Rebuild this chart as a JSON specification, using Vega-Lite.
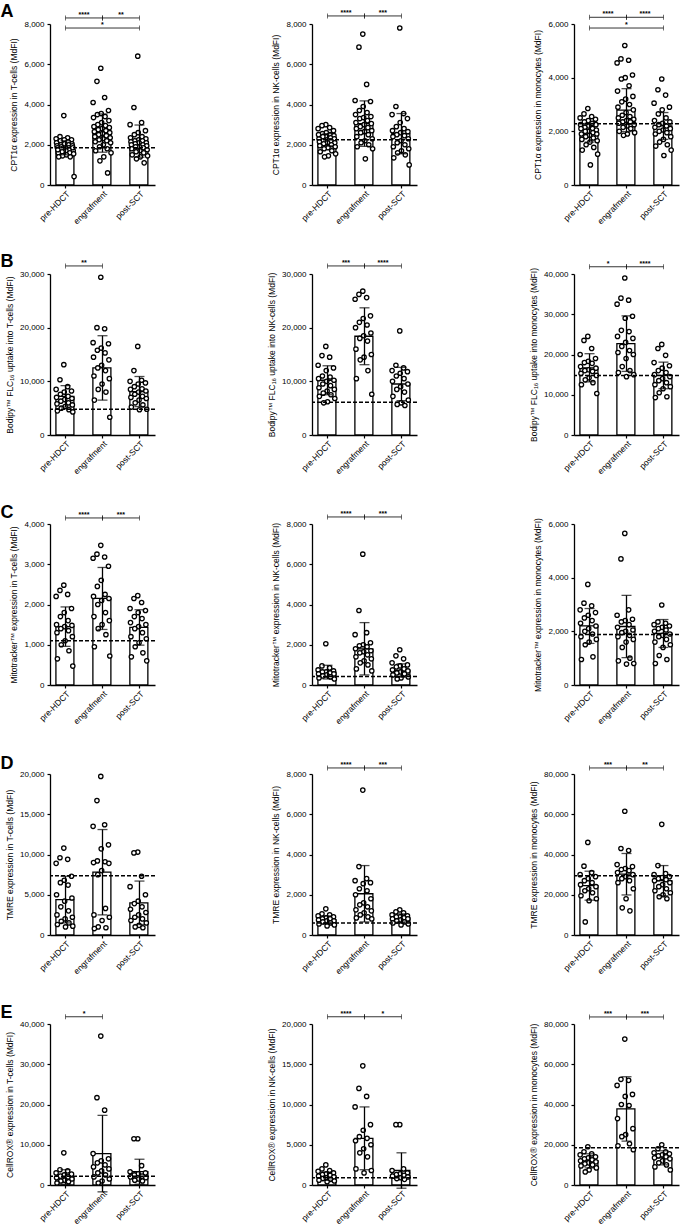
{
"$schema":"https://vega.github.io/schema/vega-lite/v6.json",
"padding":{"left":0,"top":2,"right":2,"bottom":0},
"background":"white",
"config":{"view":{"stroke":null},"font":"Liberation Sans",
"axis":{"domainColor":"black","tickColor":"black","labelColor":"black","titleColor":"black","labelFontSize":8,"titleFontSize":8.5,"titleFontWeight":"normal","domainWidth":1.3,"tickWidth":1.2,"tickSize":3,"grid":false,"labelFont":"Liberation Sans","titleFont":"Liberation Sans","labelPadding":3},
"axisY":{"titlePadding":5},
"axisX":{"labelAngle":-45,"labelFontSize":8.5,"labelPadding":1},
"title":{"anchor":"start","fontSize":18,"fontWeight":"bold","font":"Liberation Sans","color":"black","offset":-12}},
"datasets":{
"A1":[{"g":"pre","v":3450},{"g":"pre","v":2400},{"g":"pre","v":2350},{"g":"pre","v":2300},{"g":"pre","v":2250},{"g":"pre","v":2200},{"g":"pre","v":2150},{"g":"pre","v":2100},{"g":"pre","v":2050},{"g":"pre","v":2000},{"g":"pre","v":2000},{"g":"pre","v":1950},{"g":"pre","v":1900},{"g":"pre","v":1900},{"g":"pre","v":1850},{"g":"pre","v":1850},{"g":"pre","v":1800},{"g":"pre","v":1800},{"g":"pre","v":1750},{"g":"pre","v":1700},{"g":"pre","v":1700},{"g":"pre","v":1650},{"g":"pre","v":1600},{"g":"pre","v":1600},{"g":"pre","v":1550},{"g":"pre","v":1500},{"g":"pre","v":1450},{"g":"pre","v":1400},{"g":"pre","v":1400},{"g":"pre","v":420},{"g":"pre","v":2250},{"g":"pre","v":1950},{"g":"pre","v":2050},{"g":"pre","v":1750},{"g":"pre","v":1850},
{"g":"eng","v":5800},{"g":"eng","v":5150},{"g":"eng","v":4350},{"g":"eng","v":4100},{"g":"eng","v":3700},{"g":"eng","v":3550},{"g":"eng","v":3500},{"g":"eng","v":3400},{"g":"eng","v":3350},{"g":"eng","v":3200},{"g":"eng","v":3100},{"g":"eng","v":3000},{"g":"eng","v":2950},{"g":"eng","v":2900},{"g":"eng","v":2850},{"g":"eng","v":2800},{"g":"eng","v":2750},{"g":"eng","v":2700},{"g":"eng","v":2650},{"g":"eng","v":2600},{"g":"eng","v":2550},{"g":"eng","v":2500},{"g":"eng","v":2450},{"g":"eng","v":2400},{"g":"eng","v":2350},{"g":"eng","v":2300},{"g":"eng","v":2250},{"g":"eng","v":2200},{"g":"eng","v":2150},{"g":"eng","v":2100},{"g":"eng","v":2000},{"g":"eng","v":1900},{"g":"eng","v":1800},{"g":"eng","v":1700},{"g":"eng","v":1600},{"g":"eng","v":1400},{"g":"eng","v":1200},{"g":"eng","v":600},
{"g":"post","v":6400},{"g":"post","v":3850},{"g":"post","v":3100},{"g":"post","v":3000},{"g":"post","v":2700},{"g":"post","v":2600},{"g":"post","v":2500},{"g":"post","v":2400},{"g":"post","v":2350},{"g":"post","v":2300},{"g":"post","v":2250},{"g":"post","v":2200},{"g":"post","v":2200},{"g":"post","v":2150},{"g":"post","v":2100},{"g":"post","v":2100},{"g":"post","v":2050},{"g":"post","v":2000},{"g":"post","v":2000},{"g":"post","v":1950},{"g":"post","v":1900},{"g":"post","v":1900},{"g":"post","v":1850},{"g":"post","v":1800},{"g":"post","v":1750},{"g":"post","v":1700},{"g":"post","v":1650},{"g":"post","v":1600},{"g":"post","v":1500},{"g":"post","v":1450},{"g":"post","v":1400},{"g":"post","v":1300},{"g":"post","v":1100},
{"g":"pre","m":1850,"sd":350},{"g":"eng","m":2580,"sd":950},{"g":"post","m":2180,"sd":800},{"r":1850},
{"x1":"pre","x2":"eng","y":8300,"s":"****","t":1},{"x1":"eng","x2":"post","y":8300,"s":"**","t":1},{"x1":"pre","x2":"post","y":7800,"s":"*","t":2}],
"A2":[{"g":"pre","v":3000},{"g":"pre","v":2950},{"g":"pre","v":2850},{"g":"pre","v":2800},{"g":"pre","v":2700},{"g":"pre","v":2600},{"g":"pre","v":2550},{"g":"pre","v":2500},{"g":"pre","v":2450},{"g":"pre","v":2400},{"g":"pre","v":2400},{"g":"pre","v":2350},{"g":"pre","v":2300},{"g":"pre","v":2300},{"g":"pre","v":2250},{"g":"pre","v":2200},{"g":"pre","v":2200},{"g":"pre","v":2150},{"g":"pre","v":2100},{"g":"pre","v":2100},{"g":"pre","v":2050},{"g":"pre","v":2000},{"g":"pre","v":1950},{"g":"pre","v":1900},{"g":"pre","v":1850},{"g":"pre","v":1800},{"g":"pre","v":1700},{"g":"pre","v":1650},{"g":"pre","v":1550},{"g":"pre","v":1450},{"g":"pre","v":1400},{"g":"pre","v":2500},
{"g":"eng","v":7500},{"g":"eng","v":6850},{"g":"eng","v":5000},{"g":"eng","v":4200},{"g":"eng","v":4150},{"g":"eng","v":3900},{"g":"eng","v":3700},{"g":"eng","v":3600},{"g":"eng","v":3500},{"g":"eng","v":3400},{"g":"eng","v":3300},{"g":"eng","v":3200},{"g":"eng","v":3100},{"g":"eng","v":3050},{"g":"eng","v":3000},{"g":"eng","v":2900},{"g":"eng","v":2850},{"g":"eng","v":2800},{"g":"eng","v":2700},{"g":"eng","v":2650},{"g":"eng","v":2600},{"g":"eng","v":2500},{"g":"eng","v":2400},{"g":"eng","v":2300},{"g":"eng","v":2200},{"g":"eng","v":2100},{"g":"eng","v":2000},{"g":"eng","v":1900},{"g":"eng","v":1800},{"g":"eng","v":1300},{"g":"eng","v":3350},
{"g":"post","v":7800},{"g":"post","v":3900},{"g":"post","v":3550},{"g":"post","v":3500},{"g":"post","v":3300},{"g":"post","v":3100},{"g":"post","v":2900},{"g":"post","v":2800},{"g":"post","v":2700},{"g":"post","v":2650},{"g":"post","v":2600},{"g":"post","v":2500},{"g":"post","v":2450},{"g":"post","v":2400},{"g":"post","v":2300},{"g":"post","v":2200},{"g":"post","v":2100},{"g":"post","v":2000},{"g":"post","v":1900},{"g":"post","v":1800},{"g":"post","v":1700},{"g":"post","v":1600},{"g":"post","v":1500},{"g":"post","v":1350},{"g":"post","v":1000},
{"g":"pre","m":2250,"sd":300},{"g":"eng","m":3050,"sd":1130},{"g":"post","m":2550,"sd":1000},{"r":2250},
{"x1":"pre","x2":"eng","y":8400,"s":"****","t":1},{"x1":"eng","x2":"post","y":8400,"s":"***","t":1}],
"A3":[{"g":"pre","v":2850},{"g":"pre","v":2650},{"g":"pre","v":2550},{"g":"pre","v":2500},{"g":"pre","v":2450},{"g":"pre","v":2400},{"g":"pre","v":2350},{"g":"pre","v":2300},{"g":"pre","v":2250},{"g":"pre","v":2250},{"g":"pre","v":2200},{"g":"pre","v":2150},{"g":"pre","v":2100},{"g":"pre","v":2100},{"g":"pre","v":2050},{"g":"pre","v":2000},{"g":"pre","v":2000},{"g":"pre","v":1950},{"g":"pre","v":1900},{"g":"pre","v":1900},{"g":"pre","v":1850},{"g":"pre","v":1800},{"g":"pre","v":1750},{"g":"pre","v":1700},{"g":"pre","v":1650},{"g":"pre","v":1600},{"g":"pre","v":1500},{"g":"pre","v":1400},{"g":"pre","v":1300},{"g":"pre","v":1150},{"g":"pre","v":750},
{"g":"eng","v":5200},{"g":"eng","v":4700},{"g":"eng","v":4650},{"g":"eng","v":4550},{"g":"eng","v":4100},{"g":"eng","v":4000},{"g":"eng","v":3950},{"g":"eng","v":3700},{"g":"eng","v":3500},{"g":"eng","v":3300},{"g":"eng","v":3200},{"g":"eng","v":3100},{"g":"eng","v":3000},{"g":"eng","v":2900},{"g":"eng","v":2800},{"g":"eng","v":2700},{"g":"eng","v":2600},{"g":"eng","v":2550},{"g":"eng","v":2500},{"g":"eng","v":2450},{"g":"eng","v":2400},{"g":"eng","v":2350},{"g":"eng","v":2350},{"g":"eng","v":2300},{"g":"eng","v":2250},{"g":"eng","v":2200},{"g":"eng","v":2150},{"g":"eng","v":2100},{"g":"eng","v":2000},{"g":"eng","v":1950},{"g":"eng","v":1900},{"g":"eng","v":1850},
{"g":"post","v":3950},{"g":"post","v":3550},{"g":"post","v":3350},{"g":"post","v":3050},{"g":"post","v":2900},{"g":"post","v":2800},{"g":"post","v":2650},{"g":"post","v":2500},{"g":"post","v":2400},{"g":"post","v":2350},{"g":"post","v":2300},{"g":"post","v":2250},{"g":"post","v":2200},{"g":"post","v":2150},{"g":"post","v":2100},{"g":"post","v":2050},{"g":"post","v":2000},{"g":"post","v":1950},{"g":"post","v":1900},{"g":"post","v":1800},{"g":"post","v":1700},{"g":"post","v":1600},{"g":"post","v":1500},{"g":"post","v":1450},{"g":"post","v":1300},{"g":"post","v":1100},
{"g":"pre","m":1950,"sd":350},{"g":"eng","m":2790,"sd":800},{"g":"post","m":2200,"sd":500},{"r":2280},
{"x1":"pre","x2":"eng","y":6250,"s":"****","t":1},{"x1":"eng","x2":"post","y":6250,"s":"****","t":1},{"x1":"pre","x2":"post","y":5850,"s":"*","t":2}],
"B1":[{"g":"pre","v":13100},{"g":"pre","v":10300},{"g":"pre","v":9000},{"g":"pre","v":8500},{"g":"pre","v":8200},{"g":"pre","v":8000},{"g":"pre","v":7600},{"g":"pre","v":7200},{"g":"pre","v":7000},{"g":"pre","v":6800},{"g":"pre","v":6600},{"g":"pre","v":6300},{"g":"pre","v":6000},{"g":"pre","v":5800},{"g":"pre","v":5600},{"g":"pre","v":5300},{"g":"pre","v":5000},{"g":"pre","v":4700},{"g":"pre","v":4500},{"g":"pre","v":4300},
{"g":"eng","v":29400},{"g":"eng","v":20000},{"g":"eng","v":19800},{"g":"eng","v":17200},{"g":"eng","v":17000},{"g":"eng","v":16200},{"g":"eng","v":15800},{"g":"eng","v":15300},{"g":"eng","v":14500},{"g":"eng","v":14000},{"g":"eng","v":13000},{"g":"eng","v":12500},{"g":"eng","v":12000},{"g":"eng","v":11000},{"g":"eng","v":10500},{"g":"eng","v":9500},{"g":"eng","v":8500},{"g":"eng","v":8000},{"g":"eng","v":6500},{"g":"eng","v":3300},
{"g":"post","v":16500},{"g":"post","v":12000},{"g":"post","v":10200},{"g":"post","v":10000},{"g":"post","v":9700},{"g":"post","v":9500},{"g":"post","v":9000},{"g":"post","v":8600},{"g":"post","v":8500},{"g":"post","v":8200},{"g":"post","v":8000},{"g":"post","v":7600},{"g":"post","v":7200},{"g":"post","v":7000},{"g":"post","v":6800},{"g":"post","v":6500},{"g":"post","v":6000},{"g":"post","v":5600},{"g":"post","v":5200},{"g":"post","v":4800},{"g":"post","v":4700},
{"g":"pre","m":7200,"sd":2000},{"g":"eng","m":12500,"sd":6000},{"g":"post","m":8100,"sd":2800},{"r":4800},
{"x1":"pre","x2":"eng","y":31500,"s":"**","t":1}],
"B2":[{"g":"pre","v":16500},{"g":"pre","v":14800},{"g":"pre","v":14500},{"g":"pre","v":13000},{"g":"pre","v":12500},{"g":"pre","v":12000},{"g":"pre","v":11000},{"g":"pre","v":10800},{"g":"pre","v":10500},{"g":"pre","v":10200},{"g":"pre","v":10000},{"g":"pre","v":9500},{"g":"pre","v":9200},{"g":"pre","v":8800},{"g":"pre","v":8500},{"g":"pre","v":8200},{"g":"pre","v":7800},{"g":"pre","v":7500},{"g":"pre","v":7200},{"g":"pre","v":6800},{"g":"pre","v":6200},{"g":"pre","v":6000},
{"g":"eng","v":26800},{"g":"eng","v":26200},{"g":"eng","v":25600},{"g":"eng","v":25300},{"g":"eng","v":22200},{"g":"eng","v":21700},{"g":"eng","v":21000},{"g":"eng","v":20500},{"g":"eng","v":20000},{"g":"eng","v":19000},{"g":"eng","v":18500},{"g":"eng","v":18000},{"g":"eng","v":17500},{"g":"eng","v":16000},{"g":"eng","v":15000},{"g":"eng","v":14500},{"g":"eng","v":14000},{"g":"eng","v":12000},{"g":"eng","v":10500},{"g":"eng","v":7600},
{"g":"post","v":19400},{"g":"post","v":13000},{"g":"post","v":12500},{"g":"post","v":12000},{"g":"post","v":11800},{"g":"post","v":11500},{"g":"post","v":11000},{"g":"post","v":10500},{"g":"post","v":10000},{"g":"post","v":9500},{"g":"post","v":9000},{"g":"post","v":8500},{"g":"post","v":8000},{"g":"post","v":7200},{"g":"post","v":6500},{"g":"post","v":6000},{"g":"post","v":5700},{"g":"post","v":5500},
{"g":"pre","m":10200,"sd":2700},{"g":"eng","m":18400,"sd":5300},{"g":"post","m":9500,"sd":3100},{"r":6100},
{"x1":"pre","x2":"eng","y":31500,"s":"***","t":1},{"x1":"eng","x2":"post","y":31500,"s":"****","t":1}],
"B3":[{"g":"pre","v":24500},{"g":"pre","v":23500},{"g":"pre","v":21500},{"g":"pre","v":20000},{"g":"pre","v":19000},{"g":"pre","v":18300},{"g":"pre","v":18000},{"g":"pre","v":17800},{"g":"pre","v":17000},{"g":"pre","v":16600},{"g":"pre","v":16200},{"g":"pre","v":16000},{"g":"pre","v":15800},{"g":"pre","v":15300},{"g":"pre","v":14800},{"g":"pre","v":14200},{"g":"pre","v":13700},{"g":"pre","v":13000},{"g":"pre","v":12500},{"g":"pre","v":10300},
{"g":"eng","v":39000},{"g":"eng","v":34000},{"g":"eng","v":33500},{"g":"eng","v":32500},{"g":"eng","v":29500},{"g":"eng","v":29000},{"g":"eng","v":26000},{"g":"eng","v":25700},{"g":"eng","v":24500},{"g":"eng","v":24000},{"g":"eng","v":23000},{"g":"eng","v":22000},{"g":"eng","v":21000},{"g":"eng","v":20500},{"g":"eng","v":20000},{"g":"eng","v":19000},{"g":"eng","v":17000},{"g":"eng","v":16000},{"g":"eng","v":15500},{"g":"eng","v":15000},{"g":"eng","v":14500},
{"g":"post","v":22500},{"g":"post","v":21500},{"g":"post","v":19800},{"g":"post","v":18000},{"g":"post","v":17200},{"g":"post","v":16600},{"g":"post","v":16000},{"g":"post","v":15500},{"g":"post","v":15000},{"g":"post","v":14500},{"g":"post","v":14000},{"g":"post","v":13500},{"g":"post","v":13000},{"g":"post","v":12500},{"g":"post","v":12000},{"g":"post","v":11500},{"g":"post","v":10500},{"g":"post","v":9500},{"g":"post","v":9300},
{"g":"pre","m":16700,"sd":3500},{"g":"eng","m":22700,"sd":6900},{"g":"post","m":14800,"sd":3300},{"r":14800},
{"x1":"pre","x2":"eng","y":41800,"s":"*","t":1},{"x1":"eng","x2":"post","y":41800,"s":"****","t":1}],
"C1":[{"g":"pre","v":2480},{"g":"pre","v":2350},{"g":"pre","v":2250},{"g":"pre","v":2200},{"g":"pre","v":1900},{"g":"pre","v":1800},{"g":"pre","v":1700},{"g":"pre","v":1600},{"g":"pre","v":1500},{"g":"pre","v":1480},{"g":"pre","v":1450},{"g":"pre","v":1400},{"g":"pre","v":1350},{"g":"pre","v":1300},{"g":"pre","v":1200},{"g":"pre","v":1100},{"g":"pre","v":1000},{"g":"pre","v":850},{"g":"pre","v":650},{"g":"pre","v":470},
{"g":"eng","v":3470},{"g":"eng","v":3250},{"g":"eng","v":3180},{"g":"eng","v":3150},{"g":"eng","v":2950},{"g":"eng","v":2600},{"g":"eng","v":2450},{"g":"eng","v":2250},{"g":"eng","v":2200},{"g":"eng","v":2150},{"g":"eng","v":2100},{"g":"eng","v":2000},{"g":"eng","v":1800},{"g":"eng","v":1700},{"g":"eng","v":1600},{"g":"eng","v":1500},{"g":"eng","v":1400},{"g":"eng","v":1250},{"g":"eng","v":950},{"g":"eng","v":720},
{"g":"post","v":2220},{"g":"post","v":2150},{"g":"post","v":2050},{"g":"post","v":1900},{"g":"post","v":1850},{"g":"post","v":1800},{"g":"post","v":1700},{"g":"post","v":1650},{"g":"post","v":1550},{"g":"post","v":1500},{"g":"post","v":1450},{"g":"post","v":1400},{"g":"post","v":1300},{"g":"post","v":1200},{"g":"post","v":1150},{"g":"post","v":1050},{"g":"post","v":950},{"g":"post","v":800},{"g":"post","v":700},{"g":"post","v":600},
{"g":"pre","m":1450,"sd":490},{"g":"eng","m":2150,"sd":770},{"g":"post","m":1430,"sd":440},{"r":1100},
{"x1":"pre","x2":"eng","y":4150,"s":"****","t":1},{"x1":"eng","x2":"post","y":4150,"s":"***","t":1}],
"C2":[{"g":"pre","v":2050},{"g":"pre","v":950},{"g":"pre","v":850},{"g":"pre","v":750},{"g":"pre","v":700},{"g":"pre","v":650},{"g":"pre","v":650},{"g":"pre","v":600},{"g":"pre","v":550},{"g":"pre","v":550},{"g":"pre","v":500},{"g":"pre","v":450},{"g":"pre","v":400},{"g":"pre","v":350},{"g":"pre","v":300},
{"g":"eng","v":6500},{"g":"eng","v":3700},{"g":"eng","v":2600},{"g":"eng","v":2500},{"g":"eng","v":2100},{"g":"eng","v":2000},{"g":"eng","v":1950},{"g":"eng","v":1900},{"g":"eng","v":1800},{"g":"eng","v":1700},{"g":"eng","v":1650},{"g":"eng","v":1600},{"g":"eng","v":1500},{"g":"eng","v":1400},{"g":"eng","v":1300},{"g":"eng","v":1200},{"g":"eng","v":1100},{"g":"eng","v":1000},{"g":"eng","v":800},{"g":"eng","v":700},
{"g":"post","v":1750},{"g":"post","v":1450},{"g":"post","v":1300},{"g":"post","v":1100},{"g":"post","v":1000},{"g":"post","v":950},{"g":"post","v":900},{"g":"post","v":800},{"g":"post","v":750},{"g":"post","v":700},{"g":"post","v":650},{"g":"post","v":600},{"g":"post","v":550},{"g":"post","v":500},{"g":"post","v":400},{"g":"post","v":350},{"g":"post","v":300},
{"g":"pre","m":640,"sd":340},{"g":"eng","m":1800,"sd":1300},{"g":"post","m":720,"sd":330},{"r":420},
{"x1":"pre","x2":"eng","y":8350,"s":"****","t":1},{"x1":"eng","x2":"post","y":8350,"s":"***","t":1}],
"C3":[{"g":"pre","v":3750},{"g":"pre","v":3050},{"g":"pre","v":2950},{"g":"pre","v":2800},{"g":"pre","v":2700},{"g":"pre","v":2600},{"g":"pre","v":2500},{"g":"pre","v":2400},{"g":"pre","v":2300},{"g":"pre","v":2200},{"g":"pre","v":2100},{"g":"pre","v":2000},{"g":"pre","v":1900},{"g":"pre","v":1800},{"g":"pre","v":1700},{"g":"pre","v":1600},{"g":"pre","v":1500},{"g":"pre","v":1050},{"g":"pre","v":950},
{"g":"eng","v":5650},{"g":"eng","v":4700},{"g":"eng","v":2800},{"g":"eng","v":2600},{"g":"eng","v":2450},{"g":"eng","v":2400},{"g":"eng","v":2350},{"g":"eng","v":2250},{"g":"eng","v":2150},{"g":"eng","v":2050},{"g":"eng","v":2000},{"g":"eng","v":1950},{"g":"eng","v":1850},{"g":"eng","v":1800},{"g":"eng","v":1700},{"g":"eng","v":1600},{"g":"eng","v":1400},{"g":"eng","v":1000},{"g":"eng","v":900},{"g":"eng","v":800},{"g":"eng","v":780},
{"g":"post","v":2980},{"g":"post","v":2350},{"g":"post","v":2300},{"g":"post","v":2250},{"g":"post","v":2200},{"g":"post","v":2150},{"g":"post","v":2100},{"g":"post","v":2050},{"g":"post","v":2000},{"g":"post","v":1900},{"g":"post","v":1850},{"g":"post","v":1800},{"g":"post","v":1700},{"g":"post","v":1600},{"g":"post","v":1500},{"g":"post","v":1400},{"g":"post","v":1100},{"g":"post","v":950},{"g":"post","v":800},
{"g":"pre","m":2200,"sd":650},{"g":"eng","m":2180,"sd":1160},{"g":"post","m":1920,"sd":520},{"r":1880}],
"D1":[{"g":"pre","v":10800},{"g":"pre","v":9600},{"g":"pre","v":9400},{"g":"pre","v":8900},{"g":"pre","v":7300},{"g":"pre","v":6800},{"g":"pre","v":6500},{"g":"pre","v":6200},{"g":"pre","v":5000},{"g":"pre","v":4600},{"g":"pre","v":4200},{"g":"pre","v":3500},{"g":"pre","v":3000},{"g":"pre","v":2500},{"g":"pre","v":2200},{"g":"pre","v":2000},{"g":"pre","v":1700},{"g":"pre","v":1500},{"g":"pre","v":1300},{"g":"pre","v":1100},{"g":"pre","v":1000},
{"g":"eng","v":19700},{"g":"eng","v":16700},{"g":"eng","v":13700},{"g":"eng","v":13500},{"g":"eng","v":11200},{"g":"eng","v":10700},{"g":"eng","v":9200},{"g":"eng","v":9100},{"g":"eng","v":9000},{"g":"eng","v":8900},{"g":"eng","v":8000},{"g":"eng","v":7500},{"g":"eng","v":3300},{"g":"eng","v":2500},{"g":"eng","v":2200},{"g":"eng","v":1800},{"g":"eng","v":1000},{"g":"eng","v":900},{"g":"eng","v":800},
{"g":"post","v":10300},{"g":"post","v":10200},{"g":"post","v":7300},{"g":"post","v":6000},{"g":"post","v":5000},{"g":"post","v":4200},{"g":"post","v":3900},{"g":"post","v":3500},{"g":"post","v":3200},{"g":"post","v":2800},{"g":"post","v":2500},{"g":"post","v":2200},{"g":"post","v":2000},{"g":"post","v":1800},{"g":"post","v":1500},{"g":"post","v":1200},{"g":"post","v":1000},{"g":"post","v":900},
{"g":"pre","m":4400,"sd":2900},{"g":"eng","m":7800,"sd":5300},{"g":"post","m":4000,"sd":2700},{"r":7350}],
"D2":[{"g":"pre","v":1300},{"g":"pre","v":1050},{"g":"pre","v":1000},{"g":"pre","v":950},{"g":"pre","v":900},{"g":"pre","v":850},{"g":"pre","v":800},{"g":"pre","v":800},{"g":"pre","v":750},{"g":"pre","v":700},{"g":"pre","v":700},{"g":"pre","v":650},{"g":"pre","v":600},{"g":"pre","v":550},{"g":"pre","v":500},{"g":"pre","v":450},
{"g":"eng","v":7200},{"g":"eng","v":3400},{"g":"eng","v":2800},{"g":"eng","v":2700},{"g":"eng","v":2600},{"g":"eng","v":2550},{"g":"eng","v":2300},{"g":"eng","v":2200},{"g":"eng","v":2000},{"g":"eng","v":1800},{"g":"eng","v":1600},{"g":"eng","v":1500},{"g":"eng","v":1400},{"g":"eng","v":1250},{"g":"eng","v":1200},{"g":"eng","v":1100},{"g":"eng","v":1000},{"g":"eng","v":900},{"g":"eng","v":850},{"g":"eng","v":800},
{"g":"post","v":1250},{"g":"post","v":1150},{"g":"post","v":1100},{"g":"post","v":1000},{"g":"post","v":950},{"g":"post","v":900},{"g":"post","v":900},{"g":"post","v":850},{"g":"post","v":800},{"g":"post","v":800},{"g":"post","v":750},{"g":"post","v":700},{"g":"post","v":650},{"g":"post","v":600},{"g":"post","v":550},{"g":"post","v":500},
{"g":"pre","m":750,"sd":200},{"g":"eng","m":2050,"sd":1400},{"g":"post","m":850,"sd":200},{"r":600},
{"x1":"pre","x2":"eng","y":8300,"s":"****","t":1},{"x1":"eng","x2":"post","y":8300,"s":"***","t":1}],
"D3":[{"g":"pre","v":46000},{"g":"pre","v":34200},{"g":"pre","v":31000},{"g":"pre","v":30000},{"g":"pre","v":29000},{"g":"pre","v":28000},{"g":"pre","v":27000},{"g":"pre","v":26000},{"g":"pre","v":25000},{"g":"pre","v":24000},{"g":"pre","v":23000},{"g":"pre","v":22000},{"g":"pre","v":21000},{"g":"pre","v":19500},{"g":"pre","v":18000},{"g":"pre","v":17000},{"g":"pre","v":6500},
{"g":"eng","v":61500},{"g":"eng","v":43000},{"g":"eng","v":42000},{"g":"eng","v":35000},{"g":"eng","v":34000},{"g":"eng","v":33000},{"g":"eng","v":32500},{"g":"eng","v":32000},{"g":"eng","v":31000},{"g":"eng","v":30000},{"g":"eng","v":29000},{"g":"eng","v":28000},{"g":"eng","v":27000},{"g":"eng","v":26000},{"g":"eng","v":23000},{"g":"eng","v":18000},{"g":"eng","v":13500},{"g":"eng","v":12000},
{"g":"post","v":55000},{"g":"post","v":34500},{"g":"post","v":30500},{"g":"post","v":30000},{"g":"post","v":29000},{"g":"post","v":28500},{"g":"post","v":28000},{"g":"post","v":27500},{"g":"post","v":27000},{"g":"post","v":26000},{"g":"post","v":25000},{"g":"post","v":24000},{"g":"post","v":23000},{"g":"post","v":22000},{"g":"post","v":21000},{"g":"post","v":20000},{"g":"post","v":19000},{"g":"post","v":18000},
{"g":"pre","m":24500,"sd":7200},{"g":"eng","m":30200,"sd":10300},{"g":"post","m":27000,"sd":7500},{"r":29500},
{"x1":"pre","x2":"eng","y":83000,"s":"***","t":1},{"x1":"eng","x2":"post","y":83000,"s":"**","t":1}],
"E1":[{"g":"pre","v":8000},{"g":"pre","v":3800},{"g":"pre","v":3500},{"g":"pre","v":3000},{"g":"pre","v":2700},{"g":"pre","v":2500},{"g":"pre","v":2200},{"g":"pre","v":2000},{"g":"pre","v":1800},{"g":"pre","v":1500},{"g":"pre","v":1200},{"g":"pre","v":1000},{"g":"pre","v":800},{"g":"pre","v":500},
{"g":"eng","v":37000},{"g":"eng","v":21700},{"g":"eng","v":18600},{"g":"eng","v":7800},{"g":"eng","v":6500},{"g":"eng","v":6000},{"g":"eng","v":5500},{"g":"eng","v":5000},{"g":"eng","v":4500},{"g":"eng","v":4000},{"g":"eng","v":3500},{"g":"eng","v":3000},{"g":"eng","v":2500},{"g":"eng","v":2000},{"g":"eng","v":1500},{"g":"eng","v":1000},{"g":"eng","v":500},
{"g":"post","v":11500},{"g":"post","v":11500},{"g":"post","v":4800},{"g":"post","v":3300},{"g":"post","v":3000},{"g":"post","v":2800},{"g":"post","v":2500},{"g":"post","v":2200},{"g":"post","v":2000},{"g":"post","v":1800},{"g":"post","v":1500},{"g":"post","v":1200},{"g":"post","v":1000},
{"g":"pre","m":2000,"sd":1800},{"g":"eng","m":7800,"sd":9500},{"g":"post","m":3300,"sd":3100},{"r":2200},
{"x1":"pre","x2":"eng","y":41800,"s":"*","t":1}],
"E2":[{"g":"pre","v":2500},{"g":"pre","v":2000},{"g":"pre","v":1800},{"g":"pre","v":1700},{"g":"pre","v":1500},{"g":"pre","v":1400},{"g":"pre","v":1300},{"g":"pre","v":1200},{"g":"pre","v":1100},{"g":"pre","v":1000},{"g":"pre","v":900},{"g":"pre","v":800},{"g":"pre","v":700},{"g":"pre","v":600},{"g":"pre","v":500},{"g":"pre","v":400},
{"g":"eng","v":14800},{"g":"eng","v":12000},{"g":"eng","v":11000},{"g":"eng","v":9700},{"g":"eng","v":7500},{"g":"eng","v":6800},{"g":"eng","v":6000},{"g":"eng","v":5800},{"g":"eng","v":5500},{"g":"eng","v":5000},{"g":"eng","v":4500},{"g":"eng","v":4000},{"g":"eng","v":3500},{"g":"eng","v":2000},{"g":"eng","v":1800},{"g":"eng","v":1500},
{"g":"post","v":7500},{"g":"post","v":7500},{"g":"post","v":2000},{"g":"post","v":1800},{"g":"post","v":1500},{"g":"post","v":1400},{"g":"post","v":1300},{"g":"post","v":1200},{"g":"post","v":1100},{"g":"post","v":1000},{"g":"post","v":900},{"g":"post","v":800},{"g":"post","v":700},
{"g":"pre","m":1100,"sd":500},{"g":"eng","m":5800,"sd":3900},{"g":"post","m":1800,"sd":2200},{"r":900},
{"x1":"pre","x2":"eng","y":20900,"s":"****","t":1},{"x1":"eng","x2":"post","y":20900,"s":"*","t":1}],
"E3":[{"g":"pre","v":19000},{"g":"pre","v":16500},{"g":"pre","v":15500},{"g":"pre","v":15000},{"g":"pre","v":14000},{"g":"pre","v":13500},{"g":"pre","v":13000},{"g":"pre","v":12500},{"g":"pre","v":12000},{"g":"pre","v":11500},{"g":"pre","v":11000},{"g":"pre","v":10500},{"g":"pre","v":10000},{"g":"pre","v":9500},{"g":"pre","v":8500},{"g":"pre","v":7500},{"g":"pre","v":6500},
{"g":"eng","v":72500},{"g":"eng","v":52500},{"g":"eng","v":52000},{"g":"eng","v":49500},{"g":"eng","v":45000},{"g":"eng","v":44000},{"g":"eng","v":40000},{"g":"eng","v":39500},{"g":"eng","v":33000},{"g":"eng","v":28000},{"g":"eng","v":25000},{"g":"eng","v":24000},{"g":"eng","v":20500},{"g":"eng","v":19500},{"g":"eng","v":17500},
{"g":"post","v":20000},{"g":"post","v":18000},{"g":"post","v":16500},{"g":"post","v":16000},{"g":"post","v":15500},{"g":"post","v":15000},{"g":"post","v":14500},{"g":"post","v":14000},{"g":"post","v":13500},{"g":"post","v":13000},{"g":"post","v":12000},{"g":"post","v":11000},{"g":"post","v":10000},{"g":"post","v":9000},{"g":"post","v":7500},
{"g":"pre","m":12000,"sd":3500},{"g":"eng","m":37800,"sd":16000},{"g":"post","m":13500,"sd":3500},{"r":18500},
{"x1":"pre","x2":"eng","y":83500,"s":"***","t":1},{"x1":"eng","x2":"post","y":83500,"s":"***","t":1}]
},
"bounds":"flush","spacing":250,
"vconcat":[
{"title":{"text":"A","dx":-9.5},"bounds":"flush","spacing":157,"hconcat":[
{"data":{"name":"A1"},"width":105,"height":161,"layer":[
{"transform":[{"filter":"isValid(datum.m)"}],"mark":{"type":"bar","fill":"white","stroke":"black","strokeWidth":1.3},"encoding":{"x":{"field":"g","type":"nominal","scale":{"domain":["pre","eng","post"],"paddingInner":0.48,"paddingOuter":0.16},"axis":{"title":null,"labelExpr":"{'pre':'pre-HDCT','eng':'engrafment','post':'post-SCT'}[datum.value]"}},"y":{"field":"m","type":"quantitative","scale":{"domain":[0,8000],"nice":false},"axis":{"title":"CPT1α expression in T-cells (MdFI)","format":",d","values":[0,2000,4000,6000,8000]}}}},
{"transform":[{"filter":"isValid(datum.v)"},{"window":[{"op":"row_number","as":"n"}],"groupby":["g"],"sort":[{"field":"v","order":"descending"}]}],"mark":{"type":"point","filled":true,"fill":"white","stroke":"black","strokeWidth":1.3,"size":19,"opacity":1},"encoding":{"x":{"field":"g","type":"nominal"},"xOffset":{"field":"n","type":"nominal","scale":{"domain":[4,9,14,19,24,29,34,39,44,2,7,12,17,22,27,32,37,42,1,6,11,16,21,26,31,36,41,3,8,13,18,23,28,33,38,43,5,10,15,20,25,30,35,40,45]}},"y":{"field":"v","type":"quantitative"}}},
{"transform":[{"filter":"isValid(datum.m)"}],"mark":{"type":"errorbar","ticks":{"size":10,"thickness":1.3,"color":"black"},"rule":{"strokeWidth":1.3,"color":"black"}},"encoding":{"x":{"field":"g","type":"nominal"},"y":{"field":"m","type":"quantitative","title":"CPT1α expression in T-cells (MdFI)"},"yError":{"field":"sd"}}},
{"transform":[{"filter":"isValid(datum.r)"}],"mark":{"type":"rule","strokeDash":[4,2],"strokeWidth":1.5,"color":"black"},"encoding":{"y":{"field":"r","type":"quantitative"}}},
{"transform":[{"filter":"isValid(datum.s)"}],"mark":{"type":"rule","strokeWidth":0.8,"color":"black"},"encoding":{"x":{"field":"x1","type":"nominal"},"x2":{"field":"x2"},"y":{"field":"y","type":"quantitative"}}},
{"transform":[{"filter":"isValid(datum.s)"},{"fold":["x1","x2"],"as":["k","e"]}],"mark":{"type":"tick","orient":"vertical","size":5,"thickness":0.8,"color":"black"},"encoding":{"x":{"field":"e","type":"nominal"},"y":{"field":"y","type":"quantitative"}}},
{"transform":[{"filter":"datum.t==1"}],"mark":{"type":"text","fontSize":7,"fontWeight":"bold","baseline":"bottom","dy":0},"encoding":{"x":{"field":"x1","type":"nominal","bandPosition":1.46},"y":{"field":"y","type":"quantitative"},"text":{"field":"s"}}},
{"transform":[{"filter":"datum.t==2"}],"mark":{"type":"text","fontSize":7,"fontWeight":"bold","baseline":"bottom","dy":0},"encoding":{"x":{"field":"x1","type":"nominal","bandPosition":2.42},"y":{"field":"y","type":"quantitative"},"text":{"field":"s"}}}
]},
{"data":{"name":"A2"},"width":105,"height":161,"layer":[
{"transform":[{"filter":"isValid(datum.m)"}],"mark":{"type":"bar","fill":"white","stroke":"black","strokeWidth":1.3},"encoding":{"x":{"field":"g","type":"nominal","scale":{"domain":["pre","eng","post"],"paddingInner":0.48,"paddingOuter":0.16},"axis":{"title":null,"labelExpr":"{'pre':'pre-HDCT','eng':'engrafment','post':'post-SCT'}[datum.value]"}},"y":{"field":"m","type":"quantitative","scale":{"domain":[0,8000],"nice":false},"axis":{"title":"CPT1α expression in NK-cells (MdFI)","format":",d","values":[0,2000,4000,6000,8000]}}}},
{"transform":[{"filter":"isValid(datum.v)"},{"window":[{"op":"row_number","as":"n"}],"groupby":["g"],"sort":[{"field":"v","order":"descending"}]}],"mark":{"type":"point","filled":true,"fill":"white","stroke":"black","strokeWidth":1.3,"size":19,"opacity":1},"encoding":{"x":{"field":"g","type":"nominal"},"xOffset":{"field":"n","type":"nominal","scale":{"domain":[4,9,14,19,24,29,34,39,44,2,7,12,17,22,27,32,37,42,1,6,11,16,21,26,31,36,41,3,8,13,18,23,28,33,38,43,5,10,15,20,25,30,35,40,45]}},"y":{"field":"v","type":"quantitative"}}},
{"transform":[{"filter":"isValid(datum.m)"}],"mark":{"type":"errorbar","ticks":{"size":10,"thickness":1.3,"color":"black"},"rule":{"strokeWidth":1.3,"color":"black"}},"encoding":{"x":{"field":"g","type":"nominal"},"y":{"field":"m","type":"quantitative","title":"CPT1α expression in NK-cells (MdFI)"},"yError":{"field":"sd"}}},
{"transform":[{"filter":"isValid(datum.r)"}],"mark":{"type":"rule","strokeDash":[4,2],"strokeWidth":1.5,"color":"black"},"encoding":{"y":{"field":"r","type":"quantitative"}}},
{"transform":[{"filter":"isValid(datum.s)"}],"mark":{"type":"rule","strokeWidth":0.8,"color":"black"},"encoding":{"x":{"field":"x1","type":"nominal"},"x2":{"field":"x2"},"y":{"field":"y","type":"quantitative"}}},
{"transform":[{"filter":"isValid(datum.s)"},{"fold":["x1","x2"],"as":["k","e"]}],"mark":{"type":"tick","orient":"vertical","size":5,"thickness":0.8,"color":"black"},"encoding":{"x":{"field":"e","type":"nominal"},"y":{"field":"y","type":"quantitative"}}},
{"transform":[{"filter":"datum.t==1"}],"mark":{"type":"text","fontSize":7,"fontWeight":"bold","baseline":"bottom","dy":0},"encoding":{"x":{"field":"x1","type":"nominal","bandPosition":1.46},"y":{"field":"y","type":"quantitative"},"text":{"field":"s"}}}
]},
{"data":{"name":"A3"},"width":105,"height":161,"layer":[
{"transform":[{"filter":"isValid(datum.m)"}],"mark":{"type":"bar","fill":"white","stroke":"black","strokeWidth":1.3},"encoding":{"x":{"field":"g","type":"nominal","scale":{"domain":["pre","eng","post"],"paddingInner":0.48,"paddingOuter":0.16},"axis":{"title":null,"labelExpr":"{'pre':'pre-HDCT','eng':'engrafment','post':'post-SCT'}[datum.value]"}},"y":{"field":"m","type":"quantitative","scale":{"domain":[0,6000],"nice":false},"axis":{"title":"CPT1α expression in monocytes (MdFI)","format":",d","values":[0,1000,2000,3000,4000,5000,6000]}}}},
{"transform":[{"filter":"isValid(datum.v)"},{"window":[{"op":"row_number","as":"n"}],"groupby":["g"],"sort":[{"field":"v","order":"descending"}]}],"mark":{"type":"point","filled":true,"fill":"white","stroke":"black","strokeWidth":1.3,"size":19,"opacity":1},"encoding":{"x":{"field":"g","type":"nominal"},"xOffset":{"field":"n","type":"nominal","scale":{"domain":[4,9,14,19,24,29,34,39,44,2,7,12,17,22,27,32,37,42,1,6,11,16,21,26,31,36,41,3,8,13,18,23,28,33,38,43,5,10,15,20,25,30,35,40,45]}},"y":{"field":"v","type":"quantitative"}}},
{"transform":[{"filter":"isValid(datum.m)"}],"mark":{"type":"errorbar","ticks":{"size":10,"thickness":1.3,"color":"black"},"rule":{"strokeWidth":1.3,"color":"black"}},"encoding":{"x":{"field":"g","type":"nominal"},"y":{"field":"m","type":"quantitative","title":"CPT1α expression in monocytes (MdFI)"},"yError":{"field":"sd"}}},
{"transform":[{"filter":"isValid(datum.r)"}],"mark":{"type":"rule","strokeDash":[4,2],"strokeWidth":1.5,"color":"black"},"encoding":{"y":{"field":"r","type":"quantitative"}}},
{"transform":[{"filter":"isValid(datum.s)"}],"mark":{"type":"rule","strokeWidth":0.8,"color":"black"},"encoding":{"x":{"field":"x1","type":"nominal"},"x2":{"field":"x2"},"y":{"field":"y","type":"quantitative"}}},
{"transform":[{"filter":"isValid(datum.s)"},{"fold":["x1","x2"],"as":["k","e"]}],"mark":{"type":"tick","orient":"vertical","size":5,"thickness":0.8,"color":"black"},"encoding":{"x":{"field":"e","type":"nominal"},"y":{"field":"y","type":"quantitative"}}},
{"transform":[{"filter":"datum.t==1"}],"mark":{"type":"text","fontSize":7,"fontWeight":"bold","baseline":"bottom","dy":0},"encoding":{"x":{"field":"x1","type":"nominal","bandPosition":1.46},"y":{"field":"y","type":"quantitative"},"text":{"field":"s"}}},
{"transform":[{"filter":"datum.t==2"}],"mark":{"type":"text","fontSize":7,"fontWeight":"bold","baseline":"bottom","dy":0},"encoding":{"x":{"field":"x1","type":"nominal","bandPosition":2.42},"y":{"field":"y","type":"quantitative"},"text":{"field":"s"}}}
]}]},
{"title":{"text":"B","dx":-5},"bounds":"flush","spacing":157,"hconcat":[
{"data":{"name":"B1"},"width":105,"height":161,"layer":[
{"transform":[{"filter":"isValid(datum.m)"}],"mark":{"type":"bar","fill":"white","stroke":"black","strokeWidth":1.3},"encoding":{"x":{"field":"g","type":"nominal","scale":{"domain":["pre","eng","post"],"paddingInner":0.48,"paddingOuter":0.16},"axis":{"title":null,"labelExpr":"{'pre':'pre-HDCT','eng':'engrafment','post':'post-SCT'}[datum.value]"}},"y":{"field":"m","type":"quantitative","scale":{"domain":[0,30000],"nice":false},"axis":{"title":"Bodipy™ FLC₁₆ uptake into T-cells (MdFI)","format":",d","values":[0,10000,20000,30000]}}}},
{"transform":[{"filter":"isValid(datum.v)"},{"window":[{"op":"row_number","as":"n"}],"groupby":["g"],"sort":[{"field":"v","order":"descending"}]}],"mark":{"type":"point","filled":true,"fill":"white","stroke":"black","strokeWidth":1.3,"size":19,"opacity":1},"encoding":{"x":{"field":"g","type":"nominal"},"xOffset":{"field":"n","type":"nominal","scale":{"domain":[4,9,14,19,24,29,34,39,44,2,7,12,17,22,27,32,37,42,1,6,11,16,21,26,31,36,41,3,8,13,18,23,28,33,38,43,5,10,15,20,25,30,35,40,45]}},"y":{"field":"v","type":"quantitative"}}},
{"transform":[{"filter":"isValid(datum.m)"}],"mark":{"type":"errorbar","ticks":{"size":10,"thickness":1.3,"color":"black"},"rule":{"strokeWidth":1.3,"color":"black"}},"encoding":{"x":{"field":"g","type":"nominal"},"y":{"field":"m","type":"quantitative","title":"Bodipy™ FLC₁₆ uptake into T-cells (MdFI)"},"yError":{"field":"sd"}}},
{"transform":[{"filter":"isValid(datum.r)"}],"mark":{"type":"rule","strokeDash":[4,2],"strokeWidth":1.5,"color":"black"},"encoding":{"y":{"field":"r","type":"quantitative"}}},
{"transform":[{"filter":"isValid(datum.s)"}],"mark":{"type":"rule","strokeWidth":0.8,"color":"black"},"encoding":{"x":{"field":"x1","type":"nominal"},"x2":{"field":"x2"},"y":{"field":"y","type":"quantitative"}}},
{"transform":[{"filter":"isValid(datum.s)"},{"fold":["x1","x2"],"as":["k","e"]}],"mark":{"type":"tick","orient":"vertical","size":5,"thickness":0.8,"color":"black"},"encoding":{"x":{"field":"e","type":"nominal"},"y":{"field":"y","type":"quantitative"}}},
{"transform":[{"filter":"datum.t==1"}],"mark":{"type":"text","fontSize":7,"fontWeight":"bold","baseline":"bottom","dy":0},"encoding":{"x":{"field":"x1","type":"nominal","bandPosition":1.46},"y":{"field":"y","type":"quantitative"},"text":{"field":"s"}}}
]},
{"data":{"name":"B2"},"width":105,"height":161,"layer":[
{"transform":[{"filter":"isValid(datum.m)"}],"mark":{"type":"bar","fill":"white","stroke":"black","strokeWidth":1.3},"encoding":{"x":{"field":"g","type":"nominal","scale":{"domain":["pre","eng","post"],"paddingInner":0.48,"paddingOuter":0.16},"axis":{"title":null,"labelExpr":"{'pre':'pre-HDCT','eng':'engrafment','post':'post-SCT'}[datum.value]"}},"y":{"field":"m","type":"quantitative","scale":{"domain":[0,30000],"nice":false},"axis":{"title":"Bodipy™ FLC₁₆ uptake into NK-cells (MdFI)","format":",d","values":[0,10000,20000,30000]}}}},
{"transform":[{"filter":"isValid(datum.v)"},{"window":[{"op":"row_number","as":"n"}],"groupby":["g"],"sort":[{"field":"v","order":"descending"}]}],"mark":{"type":"point","filled":true,"fill":"white","stroke":"black","strokeWidth":1.3,"size":19,"opacity":1},"encoding":{"x":{"field":"g","type":"nominal"},"xOffset":{"field":"n","type":"nominal","scale":{"domain":[4,9,14,19,24,29,34,39,44,2,7,12,17,22,27,32,37,42,1,6,11,16,21,26,31,36,41,3,8,13,18,23,28,33,38,43,5,10,15,20,25,30,35,40,45]}},"y":{"field":"v","type":"quantitative"}}},
{"transform":[{"filter":"isValid(datum.m)"}],"mark":{"type":"errorbar","ticks":{"size":10,"thickness":1.3,"color":"black"},"rule":{"strokeWidth":1.3,"color":"black"}},"encoding":{"x":{"field":"g","type":"nominal"},"y":{"field":"m","type":"quantitative","title":"Bodipy™ FLC₁₆ uptake into NK-cells (MdFI)"},"yError":{"field":"sd"}}},
{"transform":[{"filter":"isValid(datum.r)"}],"mark":{"type":"rule","strokeDash":[4,2],"strokeWidth":1.5,"color":"black"},"encoding":{"y":{"field":"r","type":"quantitative"}}},
{"transform":[{"filter":"isValid(datum.s)"}],"mark":{"type":"rule","strokeWidth":0.8,"color":"black"},"encoding":{"x":{"field":"x1","type":"nominal"},"x2":{"field":"x2"},"y":{"field":"y","type":"quantitative"}}},
{"transform":[{"filter":"isValid(datum.s)"},{"fold":["x1","x2"],"as":["k","e"]}],"mark":{"type":"tick","orient":"vertical","size":5,"thickness":0.8,"color":"black"},"encoding":{"x":{"field":"e","type":"nominal"},"y":{"field":"y","type":"quantitative"}}},
{"transform":[{"filter":"datum.t==1"}],"mark":{"type":"text","fontSize":7,"fontWeight":"bold","baseline":"bottom","dy":0},"encoding":{"x":{"field":"x1","type":"nominal","bandPosition":1.46},"y":{"field":"y","type":"quantitative"},"text":{"field":"s"}}}
]},
{"data":{"name":"B3"},"width":105,"height":161,"layer":[
{"transform":[{"filter":"isValid(datum.m)"}],"mark":{"type":"bar","fill":"white","stroke":"black","strokeWidth":1.3},"encoding":{"x":{"field":"g","type":"nominal","scale":{"domain":["pre","eng","post"],"paddingInner":0.48,"paddingOuter":0.16},"axis":{"title":null,"labelExpr":"{'pre':'pre-HDCT','eng':'engrafment','post':'post-SCT'}[datum.value]"}},"y":{"field":"m","type":"quantitative","scale":{"domain":[0,40000],"nice":false},"axis":{"title":"Bodipy™ FLC₁₆ uptake into monocytes (MdFI)","format":",d","values":[0,10000,20000,30000,40000]}}}},
{"transform":[{"filter":"isValid(datum.v)"},{"window":[{"op":"row_number","as":"n"}],"groupby":["g"],"sort":[{"field":"v","order":"descending"}]}],"mark":{"type":"point","filled":true,"fill":"white","stroke":"black","strokeWidth":1.3,"size":19,"opacity":1},"encoding":{"x":{"field":"g","type":"nominal"},"xOffset":{"field":"n","type":"nominal","scale":{"domain":[4,9,14,19,24,29,34,39,44,2,7,12,17,22,27,32,37,42,1,6,11,16,21,26,31,36,41,3,8,13,18,23,28,33,38,43,5,10,15,20,25,30,35,40,45]}},"y":{"field":"v","type":"quantitative"}}},
{"transform":[{"filter":"isValid(datum.m)"}],"mark":{"type":"errorbar","ticks":{"size":10,"thickness":1.3,"color":"black"},"rule":{"strokeWidth":1.3,"color":"black"}},"encoding":{"x":{"field":"g","type":"nominal"},"y":{"field":"m","type":"quantitative","title":"Bodipy™ FLC₁₆ uptake into monocytes (MdFI)"},"yError":{"field":"sd"}}},
{"transform":[{"filter":"isValid(datum.r)"}],"mark":{"type":"rule","strokeDash":[4,2],"strokeWidth":1.5,"color":"black"},"encoding":{"y":{"field":"r","type":"quantitative"}}},
{"transform":[{"filter":"isValid(datum.s)"}],"mark":{"type":"rule","strokeWidth":0.8,"color":"black"},"encoding":{"x":{"field":"x1","type":"nominal"},"x2":{"field":"x2"},"y":{"field":"y","type":"quantitative"}}},
{"transform":[{"filter":"isValid(datum.s)"},{"fold":["x1","x2"],"as":["k","e"]}],"mark":{"type":"tick","orient":"vertical","size":5,"thickness":0.8,"color":"black"},"encoding":{"x":{"field":"e","type":"nominal"},"y":{"field":"y","type":"quantitative"}}},
{"transform":[{"filter":"datum.t==1"}],"mark":{"type":"text","fontSize":7,"fontWeight":"bold","baseline":"bottom","dy":0},"encoding":{"x":{"field":"x1","type":"nominal","bandPosition":1.46},"y":{"field":"y","type":"quantitative"},"text":{"field":"s"}}}
]}]},
{"title":{"text":"C","dx":-9.5},"bounds":"flush","spacing":157,"hconcat":[
{"data":{"name":"C1"},"width":105,"height":161,"layer":[
{"transform":[{"filter":"isValid(datum.m)"}],"mark":{"type":"bar","fill":"white","stroke":"black","strokeWidth":1.3},"encoding":{"x":{"field":"g","type":"nominal","scale":{"domain":["pre","eng","post"],"paddingInner":0.48,"paddingOuter":0.16},"axis":{"title":null,"labelExpr":"{'pre':'pre-HDCT','eng':'engrafment','post':'post-SCT'}[datum.value]"}},"y":{"field":"m","type":"quantitative","scale":{"domain":[0,4000],"nice":false},"axis":{"title":"Mitotracker™ expression in T-cells (MdFI)","format":",d","values":[0,1000,2000,3000,4000]}}}},
{"transform":[{"filter":"isValid(datum.v)"},{"window":[{"op":"row_number","as":"n"}],"groupby":["g"],"sort":[{"field":"v","order":"descending"}]}],"mark":{"type":"point","filled":true,"fill":"white","stroke":"black","strokeWidth":1.3,"size":19,"opacity":1},"encoding":{"x":{"field":"g","type":"nominal"},"xOffset":{"field":"n","type":"nominal","scale":{"domain":[4,9,14,19,24,29,34,39,44,2,7,12,17,22,27,32,37,42,1,6,11,16,21,26,31,36,41,3,8,13,18,23,28,33,38,43,5,10,15,20,25,30,35,40,45]}},"y":{"field":"v","type":"quantitative"}}},
{"transform":[{"filter":"isValid(datum.m)"}],"mark":{"type":"errorbar","ticks":{"size":10,"thickness":1.3,"color":"black"},"rule":{"strokeWidth":1.3,"color":"black"}},"encoding":{"x":{"field":"g","type":"nominal"},"y":{"field":"m","type":"quantitative","title":"Mitotracker™ expression in T-cells (MdFI)"},"yError":{"field":"sd"}}},
{"transform":[{"filter":"isValid(datum.r)"}],"mark":{"type":"rule","strokeDash":[4,2],"strokeWidth":1.5,"color":"black"},"encoding":{"y":{"field":"r","type":"quantitative"}}},
{"transform":[{"filter":"isValid(datum.s)"}],"mark":{"type":"rule","strokeWidth":0.8,"color":"black"},"encoding":{"x":{"field":"x1","type":"nominal"},"x2":{"field":"x2"},"y":{"field":"y","type":"quantitative"}}},
{"transform":[{"filter":"isValid(datum.s)"},{"fold":["x1","x2"],"as":["k","e"]}],"mark":{"type":"tick","orient":"vertical","size":5,"thickness":0.8,"color":"black"},"encoding":{"x":{"field":"e","type":"nominal"},"y":{"field":"y","type":"quantitative"}}},
{"transform":[{"filter":"datum.t==1"}],"mark":{"type":"text","fontSize":7,"fontWeight":"bold","baseline":"bottom","dy":0},"encoding":{"x":{"field":"x1","type":"nominal","bandPosition":1.46},"y":{"field":"y","type":"quantitative"},"text":{"field":"s"}}}
]},
{"data":{"name":"C2"},"width":105,"height":161,"layer":[
{"transform":[{"filter":"isValid(datum.m)"}],"mark":{"type":"bar","fill":"white","stroke":"black","strokeWidth":1.3},"encoding":{"x":{"field":"g","type":"nominal","scale":{"domain":["pre","eng","post"],"paddingInner":0.48,"paddingOuter":0.16},"axis":{"title":null,"labelExpr":"{'pre':'pre-HDCT','eng':'engrafment','post':'post-SCT'}[datum.value]"}},"y":{"field":"m","type":"quantitative","scale":{"domain":[0,8000],"nice":false},"axis":{"title":"Mitotracker™ expression in NK-cells (MdFI)","format":",d","values":[0,2000,4000,6000,8000]}}}},
{"transform":[{"filter":"isValid(datum.v)"},{"window":[{"op":"row_number","as":"n"}],"groupby":["g"],"sort":[{"field":"v","order":"descending"}]}],"mark":{"type":"point","filled":true,"fill":"white","stroke":"black","strokeWidth":1.3,"size":19,"opacity":1},"encoding":{"x":{"field":"g","type":"nominal"},"xOffset":{"field":"n","type":"nominal","scale":{"domain":[4,9,14,19,24,29,34,39,44,2,7,12,17,22,27,32,37,42,1,6,11,16,21,26,31,36,41,3,8,13,18,23,28,33,38,43,5,10,15,20,25,30,35,40,45]}},"y":{"field":"v","type":"quantitative"}}},
{"transform":[{"filter":"isValid(datum.m)"}],"mark":{"type":"errorbar","ticks":{"size":10,"thickness":1.3,"color":"black"},"rule":{"strokeWidth":1.3,"color":"black"}},"encoding":{"x":{"field":"g","type":"nominal"},"y":{"field":"m","type":"quantitative","title":"Mitotracker™ expression in NK-cells (MdFI)"},"yError":{"field":"sd"}}},
{"transform":[{"filter":"isValid(datum.r)"}],"mark":{"type":"rule","strokeDash":[4,2],"strokeWidth":1.5,"color":"black"},"encoding":{"y":{"field":"r","type":"quantitative"}}},
{"transform":[{"filter":"isValid(datum.s)"}],"mark":{"type":"rule","strokeWidth":0.8,"color":"black"},"encoding":{"x":{"field":"x1","type":"nominal"},"x2":{"field":"x2"},"y":{"field":"y","type":"quantitative"}}},
{"transform":[{"filter":"isValid(datum.s)"},{"fold":["x1","x2"],"as":["k","e"]}],"mark":{"type":"tick","orient":"vertical","size":5,"thickness":0.8,"color":"black"},"encoding":{"x":{"field":"e","type":"nominal"},"y":{"field":"y","type":"quantitative"}}},
{"transform":[{"filter":"datum.t==1"}],"mark":{"type":"text","fontSize":7,"fontWeight":"bold","baseline":"bottom","dy":0},"encoding":{"x":{"field":"x1","type":"nominal","bandPosition":1.46},"y":{"field":"y","type":"quantitative"},"text":{"field":"s"}}}
]},
{"data":{"name":"C3"},"width":105,"height":161,"layer":[
{"transform":[{"filter":"isValid(datum.m)"}],"mark":{"type":"bar","fill":"white","stroke":"black","strokeWidth":1.3},"encoding":{"x":{"field":"g","type":"nominal","scale":{"domain":["pre","eng","post"],"paddingInner":0.48,"paddingOuter":0.16},"axis":{"title":null,"labelExpr":"{'pre':'pre-HDCT','eng':'engrafment','post':'post-SCT'}[datum.value]"}},"y":{"field":"m","type":"quantitative","scale":{"domain":[0,6000],"nice":false},"axis":{"title":"Mitotracker™ expression in monocytes (MdFI)","format":",d","values":[0,2000,4000,6000]}}}},
{"transform":[{"filter":"isValid(datum.v)"},{"window":[{"op":"row_number","as":"n"}],"groupby":["g"],"sort":[{"field":"v","order":"descending"}]}],"mark":{"type":"point","filled":true,"fill":"white","stroke":"black","strokeWidth":1.3,"size":19,"opacity":1},"encoding":{"x":{"field":"g","type":"nominal"},"xOffset":{"field":"n","type":"nominal","scale":{"domain":[4,9,14,19,24,29,34,39,44,2,7,12,17,22,27,32,37,42,1,6,11,16,21,26,31,36,41,3,8,13,18,23,28,33,38,43,5,10,15,20,25,30,35,40,45]}},"y":{"field":"v","type":"quantitative"}}},
{"transform":[{"filter":"isValid(datum.m)"}],"mark":{"type":"errorbar","ticks":{"size":10,"thickness":1.3,"color":"black"},"rule":{"strokeWidth":1.3,"color":"black"}},"encoding":{"x":{"field":"g","type":"nominal"},"y":{"field":"m","type":"quantitative","title":"Mitotracker™ expression in monocytes (MdFI)"},"yError":{"field":"sd"}}},
{"transform":[{"filter":"isValid(datum.r)"}],"mark":{"type":"rule","strokeDash":[4,2],"strokeWidth":1.5,"color":"black"},"encoding":{"y":{"field":"r","type":"quantitative"}}}
]}]},
{"title":{"text":"D","dx":-5},"bounds":"flush","spacing":157,"hconcat":[
{"data":{"name":"D1"},"width":105,"height":161,"layer":[
{"transform":[{"filter":"isValid(datum.m)"}],"mark":{"type":"bar","fill":"white","stroke":"black","strokeWidth":1.3},"encoding":{"x":{"field":"g","type":"nominal","scale":{"domain":["pre","eng","post"],"paddingInner":0.48,"paddingOuter":0.16},"axis":{"title":null,"labelExpr":"{'pre':'pre-HDCT','eng':'engrafment','post':'post-SCT'}[datum.value]"}},"y":{"field":"m","type":"quantitative","scale":{"domain":[0,20000],"nice":false},"axis":{"title":"TMRE expression in T-cells (MdFI)","format":",d","values":[0,5000,10000,15000,20000]}}}},
{"transform":[{"filter":"isValid(datum.v)"},{"window":[{"op":"row_number","as":"n"}],"groupby":["g"],"sort":[{"field":"v","order":"descending"}]}],"mark":{"type":"point","filled":true,"fill":"white","stroke":"black","strokeWidth":1.3,"size":19,"opacity":1},"encoding":{"x":{"field":"g","type":"nominal"},"xOffset":{"field":"n","type":"nominal","scale":{"domain":[4,9,14,19,24,29,34,39,44,2,7,12,17,22,27,32,37,42,1,6,11,16,21,26,31,36,41,3,8,13,18,23,28,33,38,43,5,10,15,20,25,30,35,40,45]}},"y":{"field":"v","type":"quantitative"}}},
{"transform":[{"filter":"isValid(datum.m)"}],"mark":{"type":"errorbar","ticks":{"size":10,"thickness":1.3,"color":"black"},"rule":{"strokeWidth":1.3,"color":"black"}},"encoding":{"x":{"field":"g","type":"nominal"},"y":{"field":"m","type":"quantitative","title":"TMRE expression in T-cells (MdFI)"},"yError":{"field":"sd"}}},
{"transform":[{"filter":"isValid(datum.r)"}],"mark":{"type":"rule","strokeDash":[4,2],"strokeWidth":1.5,"color":"black"},"encoding":{"y":{"field":"r","type":"quantitative"}}}
]},
{"data":{"name":"D2"},"width":105,"height":161,"layer":[
{"transform":[{"filter":"isValid(datum.m)"}],"mark":{"type":"bar","fill":"white","stroke":"black","strokeWidth":1.3},"encoding":{"x":{"field":"g","type":"nominal","scale":{"domain":["pre","eng","post"],"paddingInner":0.48,"paddingOuter":0.16},"axis":{"title":null,"labelExpr":"{'pre':'pre-HDCT','eng':'engrafment','post':'post-SCT'}[datum.value]"}},"y":{"field":"m","type":"quantitative","scale":{"domain":[0,8000],"nice":false},"axis":{"title":"TMRE expression in NK-cells (MdFI)","format":",d","values":[0,2000,4000,6000,8000]}}}},
{"transform":[{"filter":"isValid(datum.v)"},{"window":[{"op":"row_number","as":"n"}],"groupby":["g"],"sort":[{"field":"v","order":"descending"}]}],"mark":{"type":"point","filled":true,"fill":"white","stroke":"black","strokeWidth":1.3,"size":19,"opacity":1},"encoding":{"x":{"field":"g","type":"nominal"},"xOffset":{"field":"n","type":"nominal","scale":{"domain":[4,9,14,19,24,29,34,39,44,2,7,12,17,22,27,32,37,42,1,6,11,16,21,26,31,36,41,3,8,13,18,23,28,33,38,43,5,10,15,20,25,30,35,40,45]}},"y":{"field":"v","type":"quantitative"}}},
{"transform":[{"filter":"isValid(datum.m)"}],"mark":{"type":"errorbar","ticks":{"size":10,"thickness":1.3,"color":"black"},"rule":{"strokeWidth":1.3,"color":"black"}},"encoding":{"x":{"field":"g","type":"nominal"},"y":{"field":"m","type":"quantitative","title":"TMRE expression in NK-cells (MdFI)"},"yError":{"field":"sd"}}},
{"transform":[{"filter":"isValid(datum.r)"}],"mark":{"type":"rule","strokeDash":[4,2],"strokeWidth":1.5,"color":"black"},"encoding":{"y":{"field":"r","type":"quantitative"}}},
{"transform":[{"filter":"isValid(datum.s)"}],"mark":{"type":"rule","strokeWidth":0.8,"color":"black"},"encoding":{"x":{"field":"x1","type":"nominal"},"x2":{"field":"x2"},"y":{"field":"y","type":"quantitative"}}},
{"transform":[{"filter":"isValid(datum.s)"},{"fold":["x1","x2"],"as":["k","e"]}],"mark":{"type":"tick","orient":"vertical","size":5,"thickness":0.8,"color":"black"},"encoding":{"x":{"field":"e","type":"nominal"},"y":{"field":"y","type":"quantitative"}}},
{"transform":[{"filter":"datum.t==1"}],"mark":{"type":"text","fontSize":7,"fontWeight":"bold","baseline":"bottom","dy":0},"encoding":{"x":{"field":"x1","type":"nominal","bandPosition":1.46},"y":{"field":"y","type":"quantitative"},"text":{"field":"s"}}}
]},
{"data":{"name":"D3"},"width":105,"height":161,"layer":[
{"transform":[{"filter":"isValid(datum.m)"}],"mark":{"type":"bar","fill":"white","stroke":"black","strokeWidth":1.3},"encoding":{"x":{"field":"g","type":"nominal","scale":{"domain":["pre","eng","post"],"paddingInner":0.48,"paddingOuter":0.16},"axis":{"title":null,"labelExpr":"{'pre':'pre-HDCT','eng':'engrafment','post':'post-SCT'}[datum.value]"}},"y":{"field":"m","type":"quantitative","scale":{"domain":[0,80000],"nice":false},"axis":{"title":"TMRE expression in monocytes (MdFI)","format":",d","values":[0,20000,40000,60000,80000]}}}},
{"transform":[{"filter":"isValid(datum.v)"},{"window":[{"op":"row_number","as":"n"}],"groupby":["g"],"sort":[{"field":"v","order":"descending"}]}],"mark":{"type":"point","filled":true,"fill":"white","stroke":"black","strokeWidth":1.3,"size":19,"opacity":1},"encoding":{"x":{"field":"g","type":"nominal"},"xOffset":{"field":"n","type":"nominal","scale":{"domain":[4,9,14,19,24,29,34,39,44,2,7,12,17,22,27,32,37,42,1,6,11,16,21,26,31,36,41,3,8,13,18,23,28,33,38,43,5,10,15,20,25,30,35,40,45]}},"y":{"field":"v","type":"quantitative"}}},
{"transform":[{"filter":"isValid(datum.m)"}],"mark":{"type":"errorbar","ticks":{"size":10,"thickness":1.3,"color":"black"},"rule":{"strokeWidth":1.3,"color":"black"}},"encoding":{"x":{"field":"g","type":"nominal"},"y":{"field":"m","type":"quantitative","title":"TMRE expression in monocytes (MdFI)"},"yError":{"field":"sd"}}},
{"transform":[{"filter":"isValid(datum.r)"}],"mark":{"type":"rule","strokeDash":[4,2],"strokeWidth":1.5,"color":"black"},"encoding":{"y":{"field":"r","type":"quantitative"}}},
{"transform":[{"filter":"isValid(datum.s)"}],"mark":{"type":"rule","strokeWidth":0.8,"color":"black"},"encoding":{"x":{"field":"x1","type":"nominal"},"x2":{"field":"x2"},"y":{"field":"y","type":"quantitative"}}},
{"transform":[{"filter":"isValid(datum.s)"},{"fold":["x1","x2"],"as":["k","e"]}],"mark":{"type":"tick","orient":"vertical","size":5,"thickness":0.8,"color":"black"},"encoding":{"x":{"field":"e","type":"nominal"},"y":{"field":"y","type":"quantitative"}}},
{"transform":[{"filter":"datum.t==1"}],"mark":{"type":"text","fontSize":7,"fontWeight":"bold","baseline":"bottom","dy":0},"encoding":{"x":{"field":"x1","type":"nominal","bandPosition":1.46},"y":{"field":"y","type":"quantitative"},"text":{"field":"s"}}}
]}]},
{"title":{"text":"E","dx":-5},"bounds":"flush","spacing":157,"hconcat":[
{"data":{"name":"E1"},"width":105,"height":161,"layer":[
{"transform":[{"filter":"isValid(datum.m)"}],"mark":{"type":"bar","fill":"white","stroke":"black","strokeWidth":1.3},"encoding":{"x":{"field":"g","type":"nominal","scale":{"domain":["pre","eng","post"],"paddingInner":0.48,"paddingOuter":0.16},"axis":{"title":null,"labelExpr":"{'pre':'pre-HDCT','eng':'engrafment','post':'post-SCT'}[datum.value]"}},"y":{"field":"m","type":"quantitative","scale":{"domain":[0,40000],"nice":false},"axis":{"title":"CellROX® expression in T-cells (MdFI)","format":",d","values":[0,10000,20000,30000,40000]}}}},
{"transform":[{"filter":"isValid(datum.v)"},{"window":[{"op":"row_number","as":"n"}],"groupby":["g"],"sort":[{"field":"v","order":"descending"}]}],"mark":{"type":"point","filled":true,"fill":"white","stroke":"black","strokeWidth":1.3,"size":19,"opacity":1},"encoding":{"x":{"field":"g","type":"nominal"},"xOffset":{"field":"n","type":"nominal","scale":{"domain":[4,9,14,19,24,29,34,39,44,2,7,12,17,22,27,32,37,42,1,6,11,16,21,26,31,36,41,3,8,13,18,23,28,33,38,43,5,10,15,20,25,30,35,40,45]}},"y":{"field":"v","type":"quantitative"}}},
{"transform":[{"filter":"isValid(datum.m)"}],"mark":{"type":"errorbar","ticks":{"size":10,"thickness":1.3,"color":"black"},"rule":{"strokeWidth":1.3,"color":"black"}},"encoding":{"x":{"field":"g","type":"nominal"},"y":{"field":"m","type":"quantitative","title":"CellROX® expression in T-cells (MdFI)"},"yError":{"field":"sd"}}},
{"transform":[{"filter":"isValid(datum.r)"}],"mark":{"type":"rule","strokeDash":[4,2],"strokeWidth":1.5,"color":"black"},"encoding":{"y":{"field":"r","type":"quantitative"}}},
{"transform":[{"filter":"isValid(datum.s)"}],"mark":{"type":"rule","strokeWidth":0.8,"color":"black"},"encoding":{"x":{"field":"x1","type":"nominal"},"x2":{"field":"x2"},"y":{"field":"y","type":"quantitative"}}},
{"transform":[{"filter":"isValid(datum.s)"},{"fold":["x1","x2"],"as":["k","e"]}],"mark":{"type":"tick","orient":"vertical","size":5,"thickness":0.8,"color":"black"},"encoding":{"x":{"field":"e","type":"nominal"},"y":{"field":"y","type":"quantitative"}}},
{"transform":[{"filter":"datum.t==1"}],"mark":{"type":"text","fontSize":7,"fontWeight":"bold","baseline":"bottom","dy":0},"encoding":{"x":{"field":"x1","type":"nominal","bandPosition":1.46},"y":{"field":"y","type":"quantitative"},"text":{"field":"s"}}}
]},
{"data":{"name":"E2"},"width":105,"height":161,"layer":[
{"transform":[{"filter":"isValid(datum.m)"}],"mark":{"type":"bar","fill":"white","stroke":"black","strokeWidth":1.3},"encoding":{"x":{"field":"g","type":"nominal","scale":{"domain":["pre","eng","post"],"paddingInner":0.48,"paddingOuter":0.16},"axis":{"title":null,"labelExpr":"{'pre':'pre-HDCT','eng':'engrafment','post':'post-SCT'}[datum.value]"}},"y":{"field":"m","type":"quantitative","scale":{"domain":[0,20000],"nice":false},"axis":{"title":"CellROX® expression in NK-cells (MdFI)","format":",d","values":[0,5000,10000,15000,20000]}}}},
{"transform":[{"filter":"isValid(datum.v)"},{"window":[{"op":"row_number","as":"n"}],"groupby":["g"],"sort":[{"field":"v","order":"descending"}]}],"mark":{"type":"point","filled":true,"fill":"white","stroke":"black","strokeWidth":1.3,"size":19,"opacity":1},"encoding":{"x":{"field":"g","type":"nominal"},"xOffset":{"field":"n","type":"nominal","scale":{"domain":[4,9,14,19,24,29,34,39,44,2,7,12,17,22,27,32,37,42,1,6,11,16,21,26,31,36,41,3,8,13,18,23,28,33,38,43,5,10,15,20,25,30,35,40,45]}},"y":{"field":"v","type":"quantitative"}}},
{"transform":[{"filter":"isValid(datum.m)"}],"mark":{"type":"errorbar","ticks":{"size":10,"thickness":1.3,"color":"black"},"rule":{"strokeWidth":1.3,"color":"black"}},"encoding":{"x":{"field":"g","type":"nominal"},"y":{"field":"m","type":"quantitative","title":"CellROX® expression in NK-cells (MdFI)"},"yError":{"field":"sd"}}},
{"transform":[{"filter":"isValid(datum.r)"}],"mark":{"type":"rule","strokeDash":[4,2],"strokeWidth":1.5,"color":"black"},"encoding":{"y":{"field":"r","type":"quantitative"}}},
{"transform":[{"filter":"isValid(datum.s)"}],"mark":{"type":"rule","strokeWidth":0.8,"color":"black"},"encoding":{"x":{"field":"x1","type":"nominal"},"x2":{"field":"x2"},"y":{"field":"y","type":"quantitative"}}},
{"transform":[{"filter":"isValid(datum.s)"},{"fold":["x1","x2"],"as":["k","e"]}],"mark":{"type":"tick","orient":"vertical","size":5,"thickness":0.8,"color":"black"},"encoding":{"x":{"field":"e","type":"nominal"},"y":{"field":"y","type":"quantitative"}}},
{"transform":[{"filter":"datum.t==1"}],"mark":{"type":"text","fontSize":7,"fontWeight":"bold","baseline":"bottom","dy":0},"encoding":{"x":{"field":"x1","type":"nominal","bandPosition":1.46},"y":{"field":"y","type":"quantitative"},"text":{"field":"s"}}}
]},
{"data":{"name":"E3"},"width":105,"height":161,"layer":[
{"transform":[{"filter":"isValid(datum.m)"}],"mark":{"type":"bar","fill":"white","stroke":"black","strokeWidth":1.3},"encoding":{"x":{"field":"g","type":"nominal","scale":{"domain":["pre","eng","post"],"paddingInner":0.48,"paddingOuter":0.16},"axis":{"title":null,"labelExpr":"{'pre':'pre-HDCT','eng':'engrafment','post':'post-SCT'}[datum.value]"}},"y":{"field":"m","type":"quantitative","scale":{"domain":[0,80000],"nice":false},"axis":{"title":"CellROX® expression in monocytes (MdFI)","format":",d","values":[0,20000,40000,60000,80000]}}}},
{"transform":[{"filter":"isValid(datum.v)"},{"window":[{"op":"row_number","as":"n"}],"groupby":["g"],"sort":[{"field":"v","order":"descending"}]}],"mark":{"type":"point","filled":true,"fill":"white","stroke":"black","strokeWidth":1.3,"size":19,"opacity":1},"encoding":{"x":{"field":"g","type":"nominal"},"xOffset":{"field":"n","type":"nominal","scale":{"domain":[4,9,14,19,24,29,34,39,44,2,7,12,17,22,27,32,37,42,1,6,11,16,21,26,31,36,41,3,8,13,18,23,28,33,38,43,5,10,15,20,25,30,35,40,45]}},"y":{"field":"v","type":"quantitative"}}},
{"transform":[{"filter":"isValid(datum.m)"}],"mark":{"type":"errorbar","ticks":{"size":10,"thickness":1.3,"color":"black"},"rule":{"strokeWidth":1.3,"color":"black"}},"encoding":{"x":{"field":"g","type":"nominal"},"y":{"field":"m","type":"quantitative","title":"CellROX® expression in monocytes (MdFI)"},"yError":{"field":"sd"}}},
{"transform":[{"filter":"isValid(datum.r)"}],"mark":{"type":"rule","strokeDash":[4,2],"strokeWidth":1.5,"color":"black"},"encoding":{"y":{"field":"r","type":"quantitative"}}},
{"transform":[{"filter":"isValid(datum.s)"}],"mark":{"type":"rule","strokeWidth":0.8,"color":"black"},"encoding":{"x":{"field":"x1","type":"nominal"},"x2":{"field":"x2"},"y":{"field":"y","type":"quantitative"}}},
{"transform":[{"filter":"isValid(datum.s)"},{"fold":["x1","x2"],"as":["k","e"]}],"mark":{"type":"tick","orient":"vertical","size":5,"thickness":0.8,"color":"black"},"encoding":{"x":{"field":"e","type":"nominal"},"y":{"field":"y","type":"quantitative"}}},
{"transform":[{"filter":"datum.t==1"}],"mark":{"type":"text","fontSize":7,"fontWeight":"bold","baseline":"bottom","dy":0},"encoding":{"x":{"field":"x1","type":"nominal","bandPosition":1.46},"y":{"field":"y","type":"quantitative"},"text":{"field":"s"}}}
]}]}
]}
